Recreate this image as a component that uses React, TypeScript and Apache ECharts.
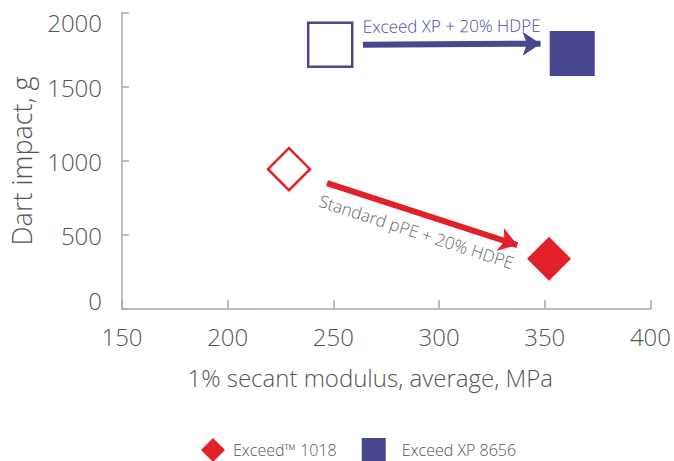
import React, { useEffect, useRef } from "react";
import * as echarts from "echarts";

const RED = "#e2202a";
const BLUE = "#47468f";
const GRAY_TEXT = "#555555";
const AXIS_GRAY = "#a8a8a8";

const seriesNames = ["Exceed™ 1018", "Exceed XP 8656"];
// Exceed 1018: [standard pPE + 20% HDPE (hollow), Exceed 1018 (filled)]
const exceed1018X = [229, 352];
const exceed1018Y = [945, 340];
// Exceed XP 8656: [Exceed XP + 20% HDPE (hollow), Exceed XP 8656 (filled)]
const exceedXPX = [248.5, 363];
const exceedXPY = [1785, 1727];

const xTicks = [150, 200, 250, 300, 350, 400];
const yTicks = [0, 500, 1000, 1500, 2000];

const arrowLabels = ["Exceed XP + 20% HDPE", "Standard pPE + 20% HDPE"];
const blueArrowFrom = [264, 1785];
const blueArrowTo = [348, 1793];
const redArrowFrom = [247, 851];
const redArrowTo = [337, 432];

export default function App() {
  const ref = useRef<HTMLDivElement>(null);
  useEffect(() => {
    if (!ref.current) return;
    const chart = echarts.init(ref.current, null, { renderer: "svg" });
    const font = "'Open Sans', 'DejaVu Sans', sans-serif";
    const W = 350;
    const labelStyle = { fontSize: 24, color: GRAY_TEXT, fontFamily: font, fontWeight: W };
    chart.setOption({
      animation: false,
      backgroundColor: "#ffffff",
      textStyle: { fontFamily: font },
      grid: { left: 122, right: 19, top: 13, bottom: 152 },
      xAxis: {
        type: "value",
        min: xTicks[0],
        max: xTicks[xTicks.length - 1],
        interval: 50,
        name: "1% secant modulus, average, MPa",
        nameLocation: "middle",
        nameGap: 56,
        nameTextStyle: {
          fontSize: 24,
          color: GRAY_TEXT,
          fontFamily: font,
          fontWeight: W,
          padding: [0, 32, 0, 0],
        },
        axisLine: { show: true, lineStyle: { color: AXIS_GRAY, width: 1.5 } },
        axisTick: { show: true, inside: true, length: 9, lineStyle: { color: AXIS_GRAY, width: 1.5 } },
        axisLabel: { ...labelStyle, margin: 15 },
        splitLine: { show: false },
      },
      yAxis: {
        type: "value",
        min: yTicks[0],
        max: yTicks[yTicks.length - 1],
        interval: 500,
        name: "Dart impact, g",
        nameLocation: "middle",
        nameGap: 87,
        nameTextStyle: { fontSize: 27, color: GRAY_TEXT, fontFamily: font, fontWeight: W },
        axisLine: { show: true, lineStyle: { color: AXIS_GRAY, width: 1.5 } },
        axisTick: { show: true, inside: true, length: 7, lineStyle: { color: AXIS_GRAY, width: 1.5 } },
        axisLabel: {
          ...labelStyle,
          margin: 20,
          formatter: (v: number) => {
            if (v === yTicks[yTicks.length - 1]) return "{top|" + v + "}";
            if (v === yTicks[0]) return "{bot|" + v + "}";
            return String(v);
          },
          rich: {
            top: { ...labelStyle, padding: [19, 0, 0, 0] },
            bot: { ...labelStyle, padding: [0, 0, 18, 0] },
          },
        },
        splitLine: { show: false },
      },
      legend: {
        left: 196,
        top: 433,
        itemWidth: 24,
        itemHeight: 24,
        itemGap: 25,
        textStyle: { fontSize: 16, color: GRAY_TEXT, fontFamily: font, fontWeight: W },
        data: [
          { name: seriesNames[0], textStyle: { padding: [0, 0, 0, 3] } },
          { name: seriesNames[1], textStyle: { padding: [0, 0, 0, 11] } },
        ],
      },
      series: [
        {
          type: "lines",
          coordinateSystem: "cartesian2d",
          z: 1,
          symbol: ["none", "arrow"],
          symbolSize: [20, 18],
          lineStyle: { width: 6, opacity: 1 },
          data: [
            {
              coords: [blueArrowFrom, blueArrowTo],
              lineStyle: { color: BLUE, width: 6, opacity: 1 },
              label: {
                show: true,
                formatter: arrowLabels[0],
                position: "insideMiddleTop",
                distance: 10,
                fontSize: 17,
                fontWeight: W,
                color: "#4b4b96",
                fontFamily: font,
              },
            },
            {
              coords: [redArrowFrom, redArrowTo],
              lineStyle: { color: RED, width: 6, opacity: 1 },
              label: {
                show: true,
                formatter: arrowLabels[1],
                position: "insideMiddleBottom",
                distance: 10,
                fontSize: 17,
                fontWeight: W,
                color: "#666666",
                fontFamily: font,
              },
            },
          ],
        },
        {
          name: seriesNames[0],
          type: "scatter",
          symbol: "diamond",
          z: 3,
          itemStyle: { color: RED, opacity: 1 },
          data: [
            {
              value: [exceed1018X[0], exceed1018Y[0]],
              symbolSize: 42,
              itemStyle: { color: "#ffffff", borderColor: RED, borderWidth: 2.5 },
            },
            { value: [exceed1018X[1], exceed1018Y[1]], symbolSize: 44 },
          ],
        },
        {
          name: seriesNames[1],
          type: "scatter",
          symbol: "rect",
          z: 3,
          itemStyle: { color: BLUE, opacity: 1 },
          data: [
            {
              value: [exceedXPX[0], exceedXPY[0]],
              symbolSize: 44,
              itemStyle: { color: "#ffffff", borderColor: BLUE, borderWidth: 2.5 },
            },
            { value: [exceedXPX[1], exceedXPY[1]], symbolSize: 45 },
          ],
        },
      ],
    });
    return () => chart.dispose();
  }, []);
  return (
    <div
      ref={ref}
      style={{ position: "absolute", left: 0, top: 0, width: 674, height: 461 }}
    />
  );
}
